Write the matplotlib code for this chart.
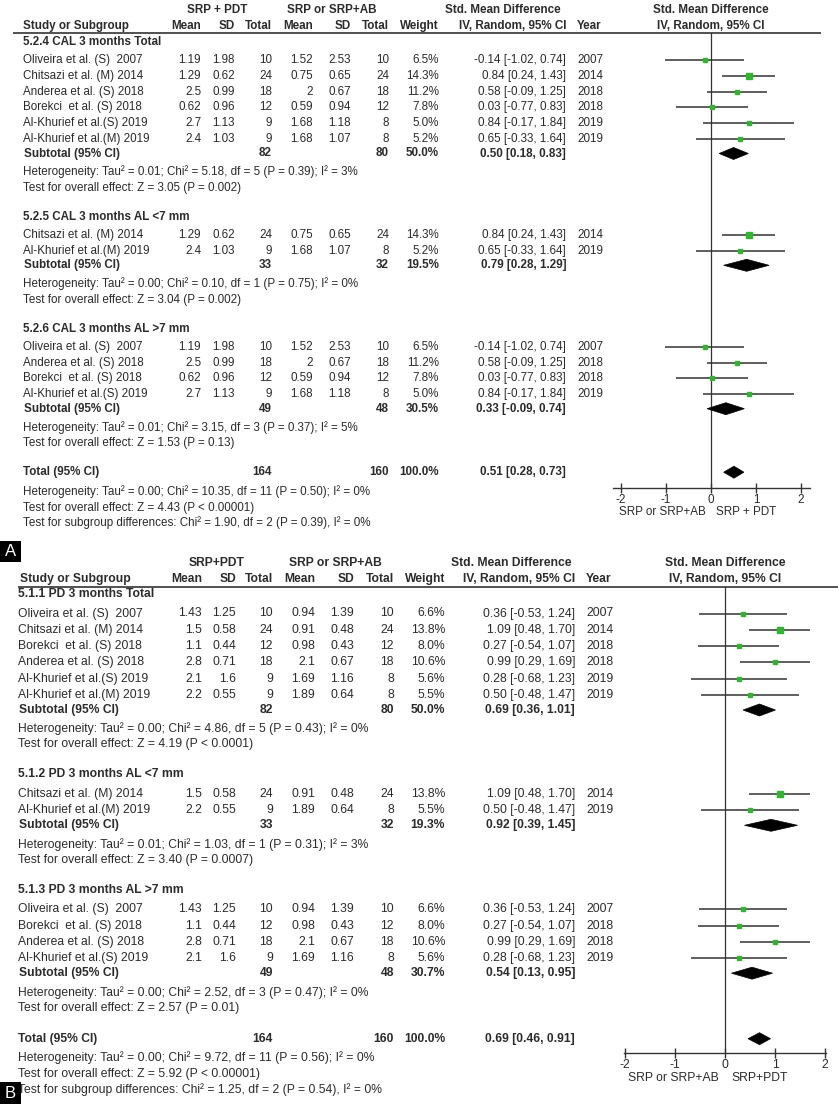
import matplotlib
matplotlib.use('Agg')
import matplotlib.pyplot as plt
from matplotlib.patches import Polygon, Rectangle

plt.rcParams['font.family'] = ['Liberation Sans', 'DejaVu Sans']

# ------------------------------------------------------------------ data
# Panel A : CAL at 3 months
A_studies = ['Oliveira et al. (S)  2007', 'Chitsazi et al. (M) 2014', 'Anderea et al. (S) 2018',
             'Borekci  et al. (S) 2018', 'Al-Khurief et al.(S) 2019', 'Al-Khurief et al.(M) 2019']
A_mean1 = [1.19, 1.29, 2.5, 0.62, 2.7, 2.4]
A_sd1 = [1.98, 0.62, 0.99, 0.96, 1.13, 1.03]
A_n1 = [10, 24, 18, 12, 9, 9]
A_mean2 = [1.52, 0.75, 2, 0.59, 1.68, 1.68]
A_sd2 = [2.53, 0.65, 0.67, 0.94, 1.18, 1.07]
A_n2 = [10, 24, 18, 12, 8, 8]
A_weight = [6.5, 14.3, 11.2, 7.8, 5.0, 5.2]
A_smd = [-0.14, 0.84, 0.58, 0.03, 0.84, 0.65]
A_lo = [-1.02, 0.24, -0.09, -0.77, -0.17, -0.33]
A_hi = [0.74, 1.43, 1.25, 0.83, 1.84, 1.64]
A_year = [2007, 2014, 2018, 2018, 2019, 2019]
A_groups = ['5.2.4 CAL 3 months Total', '5.2.5 CAL 3 months AL <7 mm', '5.2.6 CAL 3 months AL >7 mm']
A_members = [[0, 1, 2, 3, 4, 5], [1, 5], [0, 2, 3, 4]]
A_sub_n1 = [82, 33, 49]
A_sub_n2 = [80, 32, 48]
A_sub_w = [50.0, 19.5, 30.5]
A_sub_smd = [0.50, 0.79, 0.33]
A_sub_lo = [0.18, 0.28, -0.09]
A_sub_hi = [0.83, 1.29, 0.74]
A_sub_het = ['Heterogeneity: Tau² = 0.01; Chi² = 5.18, df = 5 (P = 0.39); I² = 3%',
             'Heterogeneity: Tau² = 0.00; Chi² = 0.10, df = 1 (P = 0.75); I² = 0%',
             'Heterogeneity: Tau² = 0.01; Chi² = 3.15, df = 3 (P = 0.37); I² = 5%']
A_sub_test = ['Test for overall effect: Z = 3.05 (P = 0.002)',
              'Test for overall effect: Z = 3.04 (P = 0.002)',
              'Test for overall effect: Z = 1.53 (P = 0.13)']
A_tot = dict(n1=164, n2=160, w=100.0, smd=0.51, lo=0.28, hi=0.73)
A_tot_text = ['Heterogeneity: Tau² = 0.00; Chi² = 10.35, df = 11 (P = 0.50); I² = 0%',
              'Test for overall effect: Z = 4.43 (P < 0.00001)',
              'Test for subgroup differences: Chi² = 1.90, df = 2 (P = 0.39), I² = 0%']
A_group_heads = ['SRP + PDT', 'SRP or SRP+AB']
A_favours = ['SRP or SRP+AB', 'SRP + PDT']

# Panel B : PD at 3 months
B_studies = ['Oliveira et al. (S)  2007', 'Chitsazi et al. (M) 2014', 'Borekci  et al. (S) 2018',
             'Anderea et al. (S) 2018', 'Al-Khurief et al.(S) 2019', 'Al-Khurief et al.(M) 2019']
B_mean1 = [1.43, 1.5, 1.1, 2.8, 2.1, 2.2]
B_sd1 = [1.25, 0.58, 0.44, 0.71, 1.6, 0.55]
B_n1 = [10, 24, 12, 18, 9, 9]
B_mean2 = [0.94, 0.91, 0.98, 2.1, 1.69, 1.89]
B_sd2 = [1.39, 0.48, 0.43, 0.67, 1.16, 0.64]
B_n2 = [10, 24, 12, 18, 8, 8]
B_weight = [6.6, 13.8, 8.0, 10.6, 5.6, 5.5]
B_smd = [0.36, 1.09, 0.27, 0.99, 0.28, 0.50]
B_lo = [-0.53, 0.48, -0.54, 0.29, -0.68, -0.48]
B_hi = [1.24, 1.70, 1.07, 1.69, 1.23, 1.47]
B_year = [2007, 2014, 2018, 2018, 2019, 2019]
B_groups = ['5.1.1 PD 3 months Total', '5.1.2 PD 3 months AL <7 mm', '5.1.3 PD 3 months AL >7 mm']
B_members = [[0, 1, 2, 3, 4, 5], [1, 5], [0, 2, 3, 4]]
B_sub_n1 = [82, 33, 49]
B_sub_n2 = [80, 32, 48]
B_sub_w = [50.0, 19.3, 30.7]
B_sub_smd = [0.69, 0.92, 0.54]
B_sub_lo = [0.36, 0.39, 0.13]
B_sub_hi = [1.01, 1.45, 0.95]
B_sub_het = ['Heterogeneity: Tau² = 0.00; Chi² = 4.86, df = 5 (P = 0.43); I² = 0%',
             'Heterogeneity: Tau² = 0.01; Chi² = 1.03, df = 1 (P = 0.31); I² = 3%',
             'Heterogeneity: Tau² = 0.00; Chi² = 2.52, df = 3 (P = 0.47); I² = 0%']
B_sub_test = ['Test for overall effect: Z = 4.19 (P < 0.0001)',
              'Test for overall effect: Z = 3.40 (P = 0.0007)',
              'Test for overall effect: Z = 2.57 (P = 0.01)']
B_tot = dict(n1=164, n2=160, w=100.0, smd=0.69, lo=0.46, hi=0.91)
B_tot_text = ['Heterogeneity: Tau² = 0.00; Chi² = 9.72, df = 11 (P = 0.56); I² = 0%',
              'Test for overall effect: Z = 5.92 (P < 0.00001)',
              'Test for subgroup differences: Chi² = 1.25, df = 2 (P = 0.54), I² = 0%']
B_group_heads = ['SRP+PDT', 'SRP or SRP+AB']
B_favours = ['SRP or SRP+AB', 'SRP+PDT']

ticks = [-2, -1, 0, 1, 2]
tick_labels = ['-2', '-1', '0', '1', '2']

# ------------------------------------------------------------------ layout
W, H = 838, 1104
TXT = '#2b2b2b'
LINE = '#333333'
GREEN = '#2fb52f'

fig = plt.figure(figsize=(W / 100, H / 100), dpi=100)
fig.patch.set_facecolor('white')
ax = fig.add_axes([0, 0, 1, 1])
ax.set_xlim(0, W)
ax.set_ylim(H, 0)
ax.axis('off')

panels = [
    dict(label='A', box=(541, 562), fs=8.4,
         head1_y=10, head2_y=26, line_y=33, line_x=(13, 821), first_y=42,
         cols=dict(study=23, head_study=23, m1=201, sd1=235, n1=272, m2=313, sd2=351, n2=389,
                   w=439, ci=566, year=577),
         h1x=dict(g1=217, g2=332, smd=503),
         sp=dict(head_study=18, study=15.8, study_sub=14.5, sub_het=18.5, het_test=16,
                 test_head=29, test_total=29, total_het=19, het_test2=16.5, test_sg=15),
         fx=(613, 810), xlim=(-2.18, 2.2), axis_y=488, spine=None, fav_dx=0.12, fav_y=512,
         studies=A_studies, mean1=A_mean1, sd1=A_sd1, n1=A_n1, mean2=A_mean2, sd2=A_sd2, n2=A_n2,
         weight=A_weight, smd=A_smd, lo=A_lo, hi=A_hi, year=A_year, groups=A_groups,
         members=A_members, sub_n1=A_sub_n1, sub_n2=A_sub_n2, sub_w=A_sub_w, sub_smd=A_sub_smd,
         sub_lo=A_sub_lo, sub_hi=A_sub_hi, sub_het=A_sub_het, sub_test=A_sub_test,
         tot=A_tot, tot_text=A_tot_text, heads=A_group_heads, fav=A_favours),
    dict(label='B', box=(1082, 1104), fs=8.7,
         head1_y=563, head2_y=579, line_y=587, line_x=(18, 838), first_y=594,
         cols=dict(study=18, head_study=20, m1=202, sd1=236, n1=273, m2=315, sd2=354, n2=394,
                   w=445, ci=575, year=586),
         h1x=dict(g1=217, g2=335, smd=511),
         sp=dict(head_study=19.5, study=16.3, study_sub=15, sub_het=19, het_test=15.5,
                 test_head=30, test_total=31, total_het=19, het_test2=16.5, test_sg=15),
         fx=(624, 826), xlim=(-2.02, 2.02), axis_y=1053, spine=None, fav_dx=0.12, fav_y=1078,
         studies=B_studies, mean1=B_mean1, sd1=B_sd1, n1=B_n1, mean2=B_mean2, sd2=B_sd2, n2=B_n2,
         weight=B_weight, smd=B_smd, lo=B_lo, hi=B_hi, year=B_year, groups=B_groups,
         members=B_members, sub_n1=B_sub_n1, sub_n2=B_sub_n2, sub_w=B_sub_w, sub_smd=B_sub_smd,
         sub_lo=B_sub_lo, sub_hi=B_sub_hi, sub_het=B_sub_het, sub_test=B_sub_test,
         tot=B_tot, tot_text=B_tot_text, heads=B_group_heads, fav=B_favours),
]


def ci_text(e, l, h):
    return f'{e:.2f} [{l:.2f}, {h:.2f}]'


def draw_diamond(fax, est, lo, hi, y, h):
    fax.add_patch(Polygon([[lo, y], [est, y - h / 2], [hi, y], [est, y + h / 2]],
                          closed=True, facecolor='black', edgecolor='black', lw=0.5,
                          clip_on=False, zorder=4))


for P in panels:
    fs = P['fs']
    c = P['cols']

    def t(x, y, s, ha='left', bold=False, size=fs, color=TXT):
        ax.text(x, y, s, ha=ha, va='center', fontsize=size, color=color,
                fontweight='bold' if bold else 'normal')

    # header
    t(P['h1x']['g1'], P['head1_y'], P['heads'][0], ha='center', bold=True)
    t(P['h1x']['g2'], P['head1_y'], P['heads'][1], ha='center', bold=True)
    t(P['h1x']['smd'], P['head1_y'], 'Std. Mean Difference', ha='center', bold=True)
    y2 = P['head2_y']
    t(c['head_study'], y2, 'Study or Subgroup', bold=True)
    for key, lab in [('m1', 'Mean'), ('sd1', 'SD'), ('n1', 'Total'), ('m2', 'Mean'),
                     ('sd2', 'SD'), ('n2', 'Total'), ('w', 'Weight'), ('ci', 'IV, Random, 95% CI')]:
        t(c[key], y2, lab, ha='right', bold=True)
    t(c['year'], y2, 'Year', bold=True)
    ax.plot(P['line_x'], [P['line_y'], P['line_y']], color=LINE, lw=1.2, solid_capstyle='butt')

    # forest axes: x in effect units, y in pixel rows
    x0, x1 = P['fx']
    fax = fig.add_axes([x0 / W, 1 - P['axis_y'] / H, (x1 - x0) / W, (P['axis_y'] - P['line_y']) / H])
    fax.set_xlim(*P['xlim'])
    fax.set_ylim(P['axis_y'], P['line_y'])
    fax.patch.set_alpha(0)
    for s in ['top', 'left', 'right']:
        fax.spines[s].set_visible(False)
    fax.spines['bottom'].set_color(LINE)
    fax.spines['bottom'].set_linewidth(1.0)
    fax.set_yticks([])
    fax.set_xticks(ticks)
    fax.set_xticklabels(tick_labels)
    fax.tick_params(axis='x', direction='inout', length=7, width=1.0, color=LINE,
                    labelsize=fs, labelcolor=TXT, pad=0.5)
    fax.axvline(0, color=LINE, lw=0.9, zorder=1)
    # plot column header
    t(x0 + (0 - P['xlim'][0]) / (P['xlim'][1] - P['xlim'][0]) * (x1 - x0), P['head1_y'],
      'Std. Mean Difference', ha='center', bold=True)
    t(x0 + (0 - P['xlim'][0]) / (P['xlim'][1] - P['xlim'][0]) * (x1 - x0), y2,
      'IV, Random, 95% CI', ha='center', bold=True)
    fax.text(-P['fav_dx'], P['fav_y'], P['fav'][0], ha='right', va='center', fontsize=fs,
             color=TXT, clip_on=False)
    fax.text(P['fav_dx'], P['fav_y'], P['fav'][1], ha='left', va='center', fontsize=fs,
             color=TXT, clip_on=False)

    sp = P['sp']
    y = P['first_y']
    for gi, gname in enumerate(P['groups']):
        if gi > 0:
            y += sp['test_head']
        t(c['study'], y, gname, bold=True)
        for k, i in enumerate(P['members'][gi]):
            y += sp['head_study'] if k == 0 else sp['study']
            t(c['study'], y, P['studies'][i])
            t(c['m1'], y, f"{P['mean1'][i]:g}", ha='right')
            t(c['sd1'], y, f"{P['sd1'][i]:g}", ha='right')
            t(c['n1'], y, f"{P['n1'][i]}", ha='right')
            t(c['m2'], y, f"{P['mean2'][i]:g}", ha='right')
            t(c['sd2'], y, f"{P['sd2'][i]:g}", ha='right')
            t(c['n2'], y, f"{P['n2'][i]}", ha='right')
            t(c['w'], y, f"{P['weight'][i]:.1f}%", ha='right')
            t(c['ci'], y, ci_text(P['smd'][i], P['lo'][i], P['hi'][i]), ha='right')
            t(c['year'], y, f"{P['year'][i]}")
            fax.hlines(y, P['lo'][i], P['hi'][i], color=LINE, lw=1.1, zorder=2)
            fax.plot(P['smd'][i], y, marker='s', ms=P['weight'][i] ** 0.5 * 1.05,
                     color=GREEN, mec=GREEN, zorder=3, clip_on=False)
        y += sp['study_sub']
        t(c['study'] + 1, y, 'Subtotal (95% CI)', bold=True)
        t(c['n1'], y, f"{P['sub_n1'][gi]}", ha='right', bold=True)
        t(c['n2'], y, f"{P['sub_n2'][gi]}", ha='right', bold=True)
        t(c['w'], y, f"{P['sub_w'][gi]:.1f}%", ha='right', bold=True)
        t(c['ci'], y, ci_text(P['sub_smd'][gi], P['sub_lo'][gi], P['sub_hi'][gi]), ha='right', bold=True)
        draw_diamond(fax, P['sub_smd'][gi], P['sub_lo'][gi], P['sub_hi'][gi], y, 12)
        y += sp['sub_het']
        t(c['study'], y, P['sub_het'][gi])
        y += sp['het_test']
        t(c['study'], y, P['sub_test'][gi])

    y += sp['test_total']
    T = P['tot']
    t(c['study'], y, 'Total (95% CI)', bold=True)
    t(c['n1'], y, f"{T['n1']}", ha='right', bold=True)
    t(c['n2'], y, f"{T['n2']}", ha='right', bold=True)
    t(c['w'], y, f"{T['w']:.1f}%", ha='right', bold=True)
    t(c['ci'], y, ci_text(T['smd'], T['lo'], T['hi']), ha='right', bold=True)
    draw_diamond(fax, T['smd'], T['lo'], T['hi'], y, 12)
    y += sp['total_het']
    t(c['study'], y, P['tot_text'][0])
    y += sp['het_test2']
    t(c['study'], y, P['tot_text'][1])
    y += sp['test_sg']
    t(c['study'], y, P['tot_text'][2])

    # panel label
    b0, b1 = P['box']
    ax.add_patch(Rectangle((0, b0), 21, b1 - b0, facecolor='black', edgecolor='none', zorder=5))
    ax.text(10.5, (b0 + b1) / 2 + 0.5, P['label'], ha='center', va='center', color='white',
            fontsize=12, zorder=6)

fig.savefig('out.png', dpi=100, facecolor='white')
